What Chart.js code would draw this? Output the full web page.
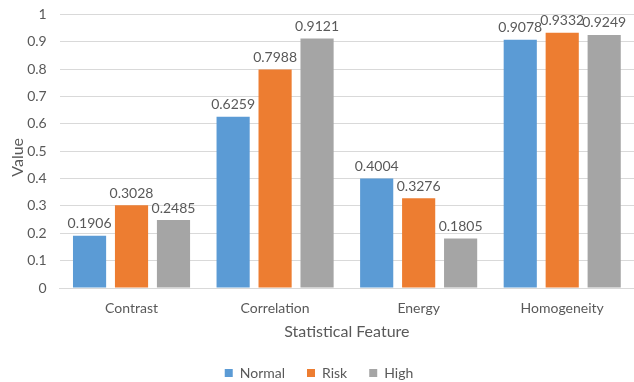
<!DOCTYPE html>
<html>
<head>
<meta charset="utf-8">
<script src="https://cdn.jsdelivr.net/npm/chart.js@4"></script>
<style>
  html, body { margin: 0; padding: 0; background: #fff; overflow: hidden; }
  #frame { width: 634px; height: 382px; overflow: hidden; position: relative; }
  #wrap { width: 634px; height: 389px; position: absolute; top: -7px; left: 0; }
</style>
</head>
<body>
<div id="frame"><div id="wrap"><canvas id="myChart"></canvas></div></div>
<script>
const categories = ['Contrast', 'Correlation', 'Energy', 'Homogeneity'];
const normalVals = [0.1906, 0.6259, 0.4004, 0.9078];
const riskVals = [0.3028, 0.7988, 0.3276, 0.9332];
const highVals = [0.2485, 0.9121, 0.1805, 0.9249];
const yTicks = [0, 0.1, 0.2, 0.3, 0.4, 0.5, 0.6, 0.7, 0.8, 0.9, 1];

const textColor = '#595959';
const fontName = "Lato, 'Open Sans', sans-serif";

// draws the value above each bar
const valueLabels = {
    id: 'valueLabels',
    afterDatasetsDraw(chart) {
        const ctx = chart.ctx;
        ctx.save();
        ctx.font = '14px ' + fontName;
        ctx.fillStyle = textColor;
        ctx.textAlign = 'center';
        ctx.textBaseline = 'bottom';
        chart.data.datasets.forEach((ds, i) => {
            chart.getDatasetMeta(i).data.forEach((bar, j) => {
                ctx.fillText(ds.data[j].toFixed(4), bar.x, bar.y - 5);
            });
        });
        ctx.restore();
    }
};

Chart.defaults.font.family = fontName;
Chart.defaults.color = textColor;

new Chart(document.getElementById('myChart'), {
    type: 'bar',
    data: {
        labels: categories,
        datasets: [
            { label: 'Normal', data: normalVals, backgroundColor: '#5B9BD5' },
            { label: 'Risk', data: riskVals, backgroundColor: '#ED7D31' },
            { label: 'High', data: highVals, backgroundColor: '#A5A5A5' }
        ]
    },
    options: {
        responsive: true,
        maintainAspectRatio: false,
        animation: false,
        categoryPercentage: 0.877,
        barPercentage: 0.79,
        layout: { padding: { top: -3, right: 0, left: 4, bottom: -8 } },
        plugins: {
            legend: {
                position: 'bottom',
                labels: {
                    boxWidth: 8,
                    boxHeight: 8,
                    padding: 22,
                    font: { size: 14 }
                }
            },
            tooltip: { enabled: false }
        },
        scales: {
            x: {
                grid: { display: false, drawTicks: false },
                border: { color: '#D9D9D9' },
                ticks: { padding: 12, font: { size: 14 } },
                title: {
                    display: true,
                    text: 'Statistical Feature',
                    font: { size: 16 },
                    padding: { top: -7, bottom: 3 }
                }
            },
            y: {
                min: 0,
                max: 1,
                afterBuildTicks: axis => { axis.ticks = yTicks.map(v => ({ value: v })); },
                grid: { color: '#D9D9D9', drawTicks: false },
                border: { display: false },
                ticks: {
                    padding: 13,
                    font: { size: 14 },
                    callback: v => String(Math.round(v * 10) / 10)
                },
                title: {
                    display: true,
                    text: 'Value   ',  // trailing spaces nudge it down a bit
                    font: { size: 16 },
                    padding: { top: 4, bottom: -13 }
                }
            }
        }
    },
    plugins: [valueLabels]
});
</script>
</body>
</html>
